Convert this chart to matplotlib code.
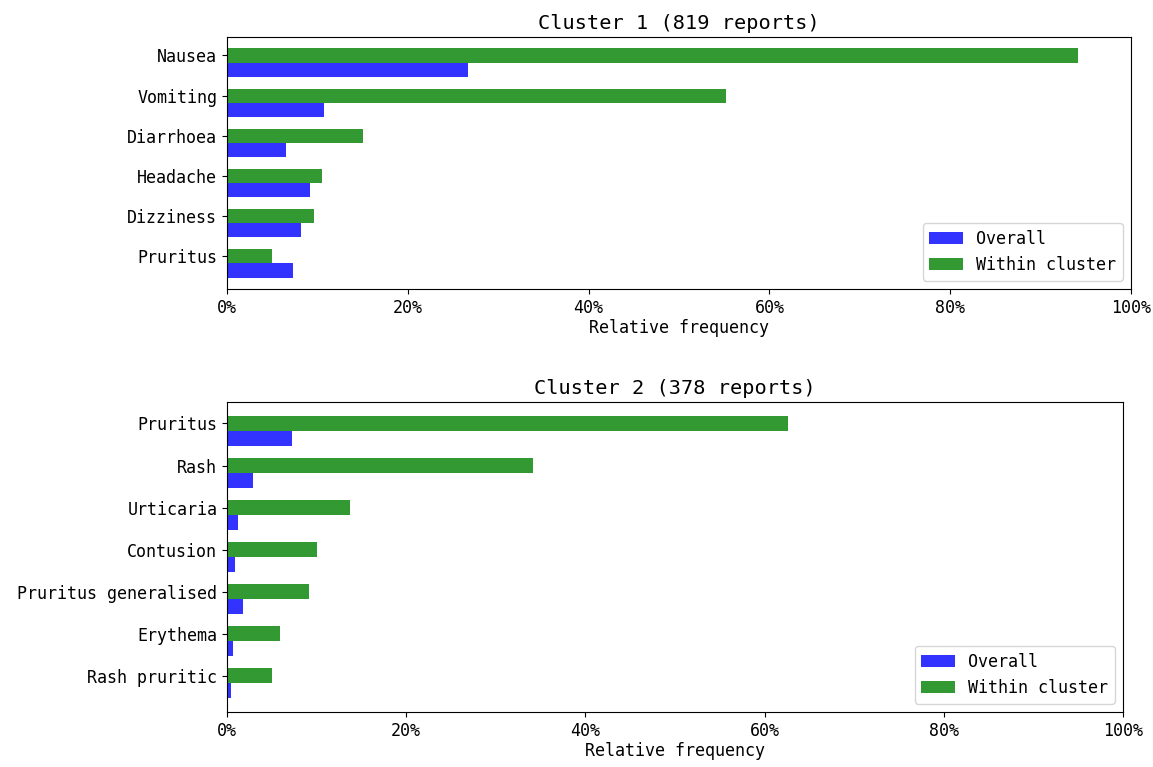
import numpy as np
import matplotlib
matplotlib.use("Agg")
from matplotlib import pyplot as plt
from matplotlib.ticker import PercentFormatter

# Cluster 1
labels_1 = ["Nausea", "Vomiting", "Diarrhoea", "Headache", "Dizziness", "Pruritus"]
overall_1 = [0.267, 0.107, 0.065, 0.092, 0.082, 0.073]
within_1 = [0.941, 0.552, 0.150, 0.105, 0.096, 0.050]
title_1 = "Cluster 1 (819 reports)"

# Cluster 2
labels_2 = ["Pruritus", "Rash", "Urticaria", "Contusion", "Pruritus generalised",
            "Erythema", "Rash pruritic"]
overall_2 = [0.073, 0.029, 0.012, 0.0085, 0.018, 0.0064, 0.0047]
within_2 = [0.626, 0.341, 0.137, 0.101, 0.092, 0.059, 0.050]
title_2 = "Cluster 2 (378 reports)"

plt.rcParams["font.family"] = "DejaVu Sans Mono"
plt.rcParams["font.size"] = 12


def draw(ax, labels, overall, within, title):
    width = 0.35
    ind = np.arange(len(labels))
    ax.barh(ind + width, overall, width, color="b", alpha=0.8, label="Overall")
    ax.barh(ind, within, width, color="g", alpha=0.8, label="Within cluster")
    ax.set_yticks(ind)
    ax.set_yticklabels(labels)
    ax.invert_yaxis()
    ax.set_xlim(0, 1)
    ax.xaxis.set_major_formatter(PercentFormatter(xmax=1, decimals=0))
    ax.set_xlabel("Relative frequency", labelpad=2)
    ax.set_title(title, fontsize=14.6, pad=6)
    ax.legend(loc="lower right")


fig = plt.figure(figsize=(11.53, 7.67), dpi=100)
ax1 = fig.add_axes([227 / 1153, 1 - 289 / 767, 904 / 1153, 252 / 767])
ax2 = fig.add_axes([227 / 1153, 1 - 712 / 767, 896 / 1153, 310 / 767])

draw(ax1, labels_1, overall_1, within_1, title_1)
draw(ax2, labels_2, overall_2, within_2, title_2)

fig.savefig("out.png", dpi=100)
